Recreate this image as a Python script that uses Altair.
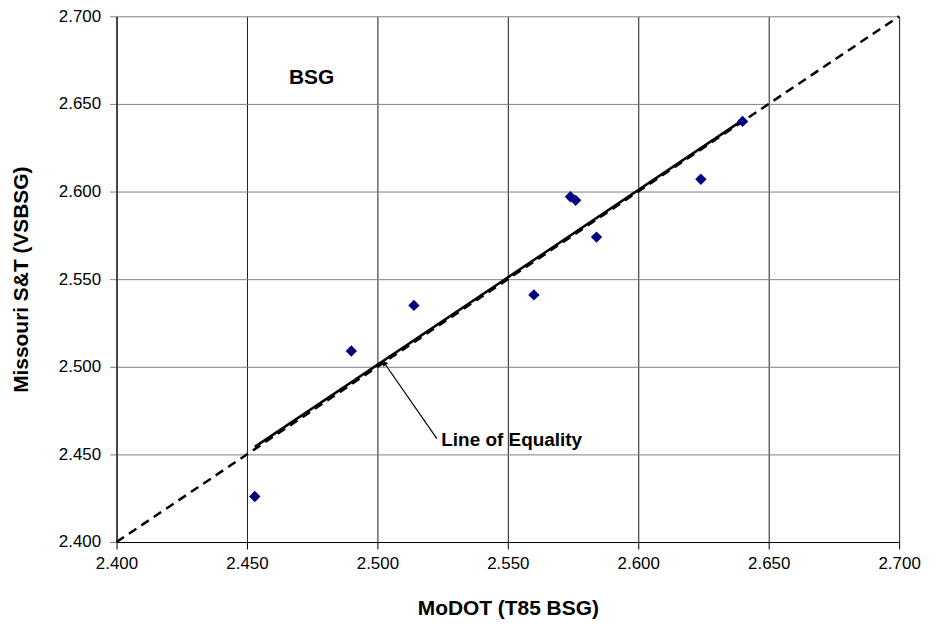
import altair as alt
import pandas as pd

# Data
modot = [2.453, 2.490, 2.514, 2.560, 2.574, 2.576, 2.584, 2.624, 2.640]
vsbsg = [2.426, 2.509, 2.535, 2.541, 2.597, 2.595, 2.574, 2.607, 2.640]
equality = [2.400, 2.700]
ticks = [2.400, 2.450, 2.500, 2.550, 2.600, 2.650, 2.700]

arrow_x = [2.5228, 2.5026]
arrow_y = [2.4590, 2.5023]
note_text = ["Line of Equality"]
note_x = [2.5245]
note_y = [2.4584]
label_text = ["BSG"]
label_x = [2.4748]
label_y = [2.6650]

FONT = "Liberation Sans"

pts = pd.DataFrame({"x": modot, "y": vsbsg})
eq = pd.DataFrame({"x": equality, "y": equality})
arr = pd.DataFrame({"x": arrow_x, "y": arrow_y})
head = pd.DataFrame({"x": arrow_x[1:], "y": arrow_y[1:]})
note = pd.DataFrame({"x": note_x, "y": note_y, "t": note_text})
lab = pd.DataFrame({"x": label_x, "y": label_y, "t": label_text})

xs = alt.Scale(domain=[2.4, 2.7], nice=False, zero=False)
ys = alt.Scale(domain=[2.4, 2.7], nice=False, zero=False)

x_axis = alt.Axis(values=ticks, format=".3f", title="MoDOT (T85 BSG)",
                  grid=True, gridColor="#1a1a1a", gridWidth=1,
                  domainColor="black", tickColor="black", tickSize=7,
                  labelPadding=7, titlePadding=26, labelFlush=False,
                  labelFont=FONT, labelFontSize=17, labelColor="black",
                  titleFont=FONT, titleFontSize=21, titleFontWeight="bold", titleColor="black")
y_axis = alt.Axis(values=ticks, format=".3f", title="Missouri S&T (VSBSG)",
                  grid=True, gridColor="#808080", gridWidth=1,
                  domainColor="black", tickColor="#808080", tickSize=7,
                  labelPadding=9, titlePadding=27, labelFlush=False,
                  labelFont=FONT, labelFontSize=17, labelColor="black",
                  titleFont=FONT, titleFontSize=21, titleFontWeight="bold", titleColor="black")

X = alt.X("x:Q", scale=xs, axis=x_axis)
Y = alt.Y("y:Q", scale=ys, axis=y_axis)
Xn = alt.X("x:Q", scale=xs)
Yn = alt.Y("y:Q", scale=ys)

base_pts = alt.Chart(pts).mark_point(shape="diamond", filled=True, color="#000080",
                                     size=130, opacity=1).encode(x=X, y=Y)

eq_line = alt.Chart(eq).mark_line(color="black", strokeWidth=2.5,
                                  strokeDash=[9, 6]).encode(x=Xn, y=Yn)

reg_line = alt.Chart(pts).transform_regression("x", "y").mark_line(
    color="black", strokeWidth=2.5).encode(x=Xn, y=Yn)

arrow_line = alt.Chart(arr).mark_line(color="black", strokeWidth=1.2).encode(x=Xn, y=Yn)
arrow_head = alt.Chart(head).mark_point(shape="triangle-up", filled=True, color="black",
                                        size=40, angle=325, opacity=1).encode(x=Xn, y=Yn)

note_txt = alt.Chart(note).mark_text(align="left", baseline="middle", font=FONT,
                                     fontWeight="bold", fontSize=19, color="black").encode(
    x=Xn, y=Yn, text="t:N")
lab_txt = alt.Chart(lab).mark_text(align="center", baseline="middle", font=FONT,
                                   fontWeight="bold", fontSize=21, color="black").encode(
    x=Xn, y=Yn, text="t:N")

chart = alt.layer(eq_line, reg_line, base_pts, arrow_line, arrow_head, note_txt, lab_txt).properties(
    width=786, height=528,
    background="white",
    autosize=alt.AutoSizeParams(type="none"),
    padding={"left": 109, "top": 7, "right": 30, "bottom": 82},
).configure_view(stroke=None)

chart.save("out.html", embed_options={"renderer": "svg", "actions": False})
